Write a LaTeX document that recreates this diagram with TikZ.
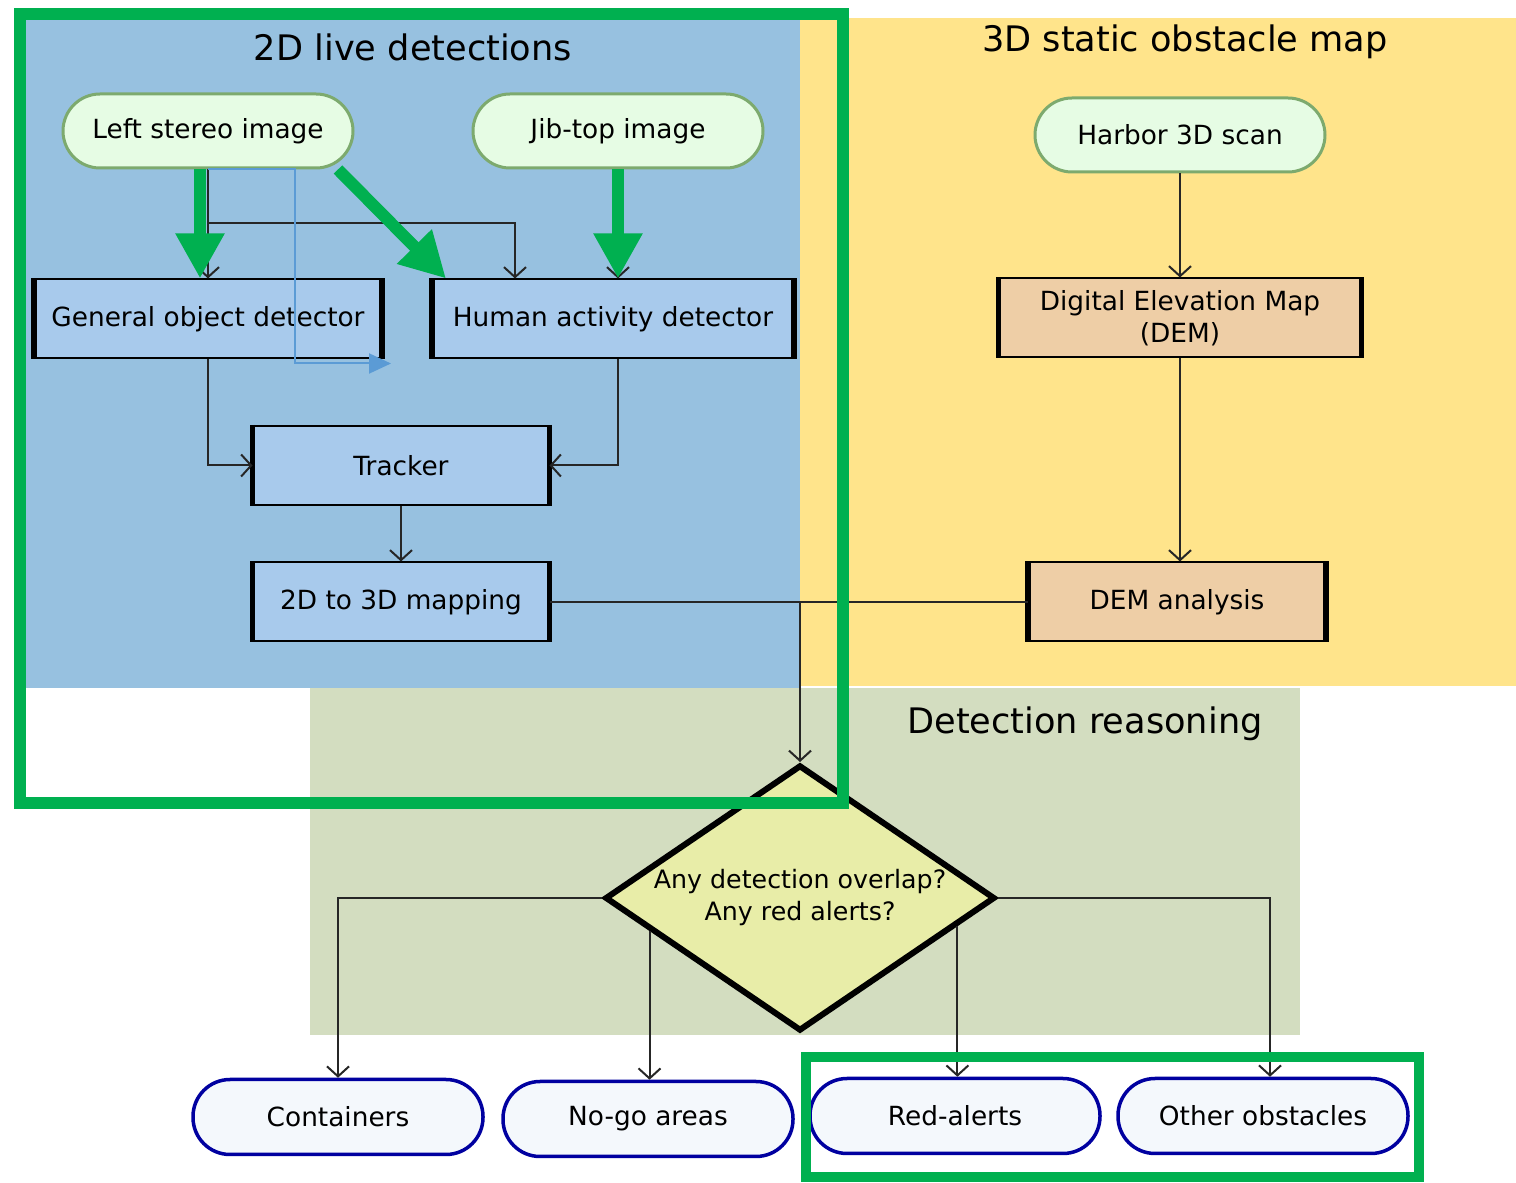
\documentclass[tikz,border=0pt]{standalone}
\usepackage{fontspec}
\setmainfont{DejaVu Sans}
\usetikzlibrary{arrows.meta,shapes.geometric,calc}
\definecolor{livebg}{RGB}{151,193,224}
\definecolor{mapbg}{RGB}{255,228,139}
\definecolor{reasonbg}{RGB}{211,221,192}
\definecolor{detfill}{RGB}{168,202,236}
\definecolor{demfill}{RGB}{238,206,166}
\definecolor{srcfill}{RGB}{230,252,228}
\definecolor{srcline}{RGB}{125,170,110}
\definecolor{decfill}{RGB}{232,237,168}
\definecolor{outfill}{RGB}{244,248,252}
\definecolor{outline}{RGB}{0,0,160}
\definecolor{hlgreen}{RGB}{0,176,80}
\definecolor{linkblue}{RGB}{91,155,213}

\begin{document}
\begin{tikzpicture}[x=0.1mm,y=-0.1mm,
  font=\fontsize{7.5}{9.1}\selectfont,
  heading/.style={font=\fontsize{10}{12}\selectfont},
  srcimg/.style={draw=srcline,line width=0.3mm,fill=srcfill,rounded corners=3.7mm,minimum width=29mm,minimum height=7.4mm},
  outcome/.style={draw=outline,line width=0.35mm,fill=outfill,rounded corners=3.7mm,minimum width=29mm,minimum height=7.5mm},
  procbox/.style={draw,line width=0.2mm,minimum height=7.9mm,align=center},
  conn/.style={draw=black!85,line width=0.2mm,-{Straight Barb[length=1mm,width=2.2mm]}},
  bluelink/.style={draw=linkblue,line width=0.2mm,-{Triangle[length=2.2mm,width=2mm]}},
  hlarrow/.style={draw=hlgreen,line width=1.2mm,-{Triangle[length=4.5mm,width=4.6mm]}},
  hlframe/.style={draw=hlgreen,line width=1.2mm}]
\useasboundingbox (0,0) rectangle (1516,1183);
\fill[livebg] (25,20) rectangle (800,688);
\fill[mapbg] (800,18) rectangle (1516,686);
\fill[reasonbg] (310,688) rectangle (1300,1035);

\node[heading] (t2d) at (413,47) {2D live detections};
\node[heading] (t3d) at (1185,42) {3D static obstacle map};
\node[heading] (treason) at (1085,724) {Detection reasoning};

\node[srcimg] (lsi) at (208,131) {Left stereo image};
\node[srcimg] (jib) at (618,131) {Jib-top image};
\node[srcimg] (harbor) at (1180,135) {Harbor 3D scan};
\node[procbox,fill=detfill,minimum width=34.6mm] (gen) at (208,319) {General object detector};
\node[procbox,fill=detfill,minimum width=36mm] (had) at (613,319) {Human activity detector};
\node[procbox,fill=detfill,minimum width=29.5mm] (trk) at (401,465.5) {Tracker};
\node[procbox,fill=detfill,minimum width=29.5mm] (map) at (401,602) {2D to 3D mapping};
\node[procbox,fill=demfill,minimum width=36.1mm] (dem) at (1180,318) {Digital Elevation Map\\(DEM)};
\node[procbox,fill=demfill,minimum width=29.6mm] (dema) at (1177,602) {DEM analysis};
\node[diamond,draw,line width=0.6mm,fill=decfill,aspect=1.47,inner sep=0pt,minimum width=39mm,minimum height=26.6mm,align=center,font=\fontsize{7.2}{9.1}\selectfont] (diam) at (800,898) {Any detection overlap?\\Any red alerts?};
\node[outcome] (cont) at (338,1117) {Containers};
\node[outcome] (nogo) at (648,1119) {No-go areas};
\node[outcome] (red) at (955,1116) {Red-alerts};
\node[outcome] (other) at (1263,1116) {Other obstacles};

\foreach \n in {gen,had,trk,map,dem,dema}
  \draw[line width=0.55mm] (\n.north west) -- (\n.south west) (\n.north east) -- (\n.south east);

\draw[conn] (lsi) -- (gen);
\draw[conn] (lsi.south) ++(0,54) -| ([xshift=-9.8mm]had.north);
\draw[conn] (jib.south) -- (jib.south |- had.north);
\draw[conn] (gen.south) |- (trk.west);
\draw[conn] (jib.south |- had.south) |- (trk.east);
\draw[conn] (trk) -- (map);
\draw[draw=black!85,line width=0.2mm] (map.east) -- (dema.west);
\draw[conn] (map.east -| diam.north) -- (diam.north);
\draw[conn] (harbor) -- (dem);
\draw[conn] (dem.south) -- (dem.south |- dema.north);
\draw[conn] (diam.west) -| (cont.north);
\draw[conn] (diam.east) -| ([xshift=0.7mm]other.north);
\coordinate (nogoin) at ($(diam.west)!0.24!(diam.south)$);
\draw[conn] (nogoin) -- (nogoin |- nogo.north);
\coordinate (redin) at ($(diam.east)!0.205!(diam.south)$);
\draw[conn] (redin) -- (redin |- red.north);

\draw[bluelink] (lsi.south) -- ++(87,0) |- ([xshift=0.9mm,yshift=-0.4mm]gen.south east);

\draw[hlarrow] ([xshift=-0.8mm]lsi.south) -- ([xshift=-0.8mm]gen.north);
\draw[hlarrow] ([xshift=13mm]lsi.south) -- ([xshift=1.4mm]had.north west);
\draw[hlarrow] (jib.south) -- (jib.south |- had.north);

\draw[hlframe] (20,14) rectangle (843,803);
\draw[hlframe,line width=1mm] (806,1057) rectangle (1419,1177);
\end{tikzpicture}
\end{document}
